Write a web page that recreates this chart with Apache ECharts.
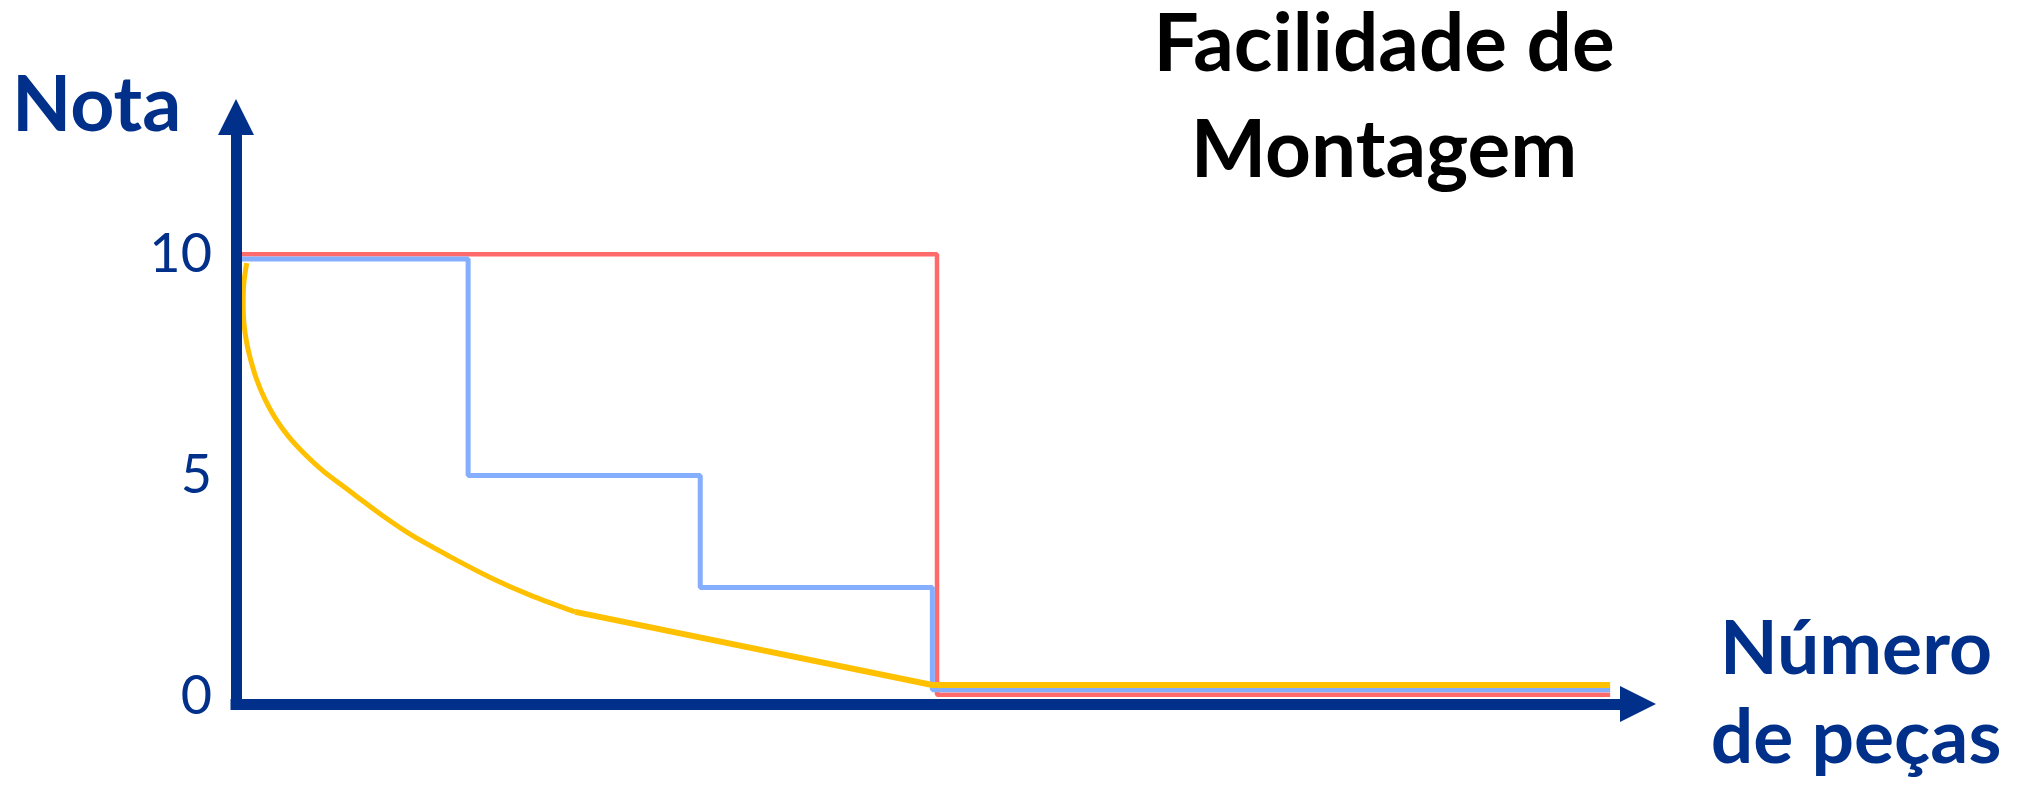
<!DOCTYPE html>
<html>
<head>
<meta charset="utf-8">
<title>Facilidade de Montagem</title>
<script src="https://cdn.jsdelivr.net/npm/echarts@6/dist/echarts.min.js"></script>
<style>
  html, body { margin: 0; padding: 0; background: #fff; }
  #chart { width: 2025px; height: 786px; }
</style>
</head>
<body>
<div id="chart"></div>
<script>
// eixo Y: valores marcados
const yTicks = [0, 5, 10];

// curva vermelha (tudo ou nada)
const redLine = [[0, 10], [3.02, 10], [3.02, 0.05], [5.92, 0.05]];

// degraus azuis
const blueLine = [
    [0, 9.89], [1, 9.89], [1, 5], [2, 5],
    [2, 2.47], [3, 2.47], [3, 0.16], [5.92, 0.16]
];

// curva amarela: parte curva + parte reta
const yellowCurve = [
    [0.046, 9.80], [0.034, 9.36], [0.031, 8.91], [0.034, 8.45],
    [0.046, 8.00], [0.063, 7.62], [0.089, 7.17], [0.125, 6.72],
    [0.168, 6.31], [0.225, 5.89], [0.297, 5.48], [0.376, 5.10],
    [0.462, 4.76], [0.520, 4.53], [0.635, 4.08], [0.764, 3.63],
    [0.922, 3.17], [1.095, 2.70], [1.267, 2.30], [1.461, 1.92]
];
const yellowStraight = [[1.461, 1.92], [3, 0.27], [5.92, 0.27]];

const NAVY = '#00308A';

var chartDom = document.getElementById('chart');
var myChart = echarts.init(chartDom);
var option = {
    animation: false,
    grid: {
        left: 236,
        top: 117,
        right: 387,
        bottom: 82,
        containLabel: false,
        outerBoundsMode: 'none'
    },
    xAxis: {
        type: 'value',
        min: 0,
        max: 6.04,
        z: 5,
        axisLine: {
            show: true,
            onZero: false,
            symbol: ['none', 'triangle'],
            symbolSize: [36, 36],
            lineStyle: { color: NAVY, width: 11, cap: 'square' }
        },
        axisTick: { show: false },
        axisLabel: { show: false },
        splitLine: { show: false }
    },
    yAxis: {
        type: 'value',
        min: -0.16,
        max: 13.1,
        z: 5,
        axisLine: {
            show: true,
            onZero: false,
            symbol: ['none', 'triangle'],
            symbolSize: [36, 36],
            lineStyle: { color: NAVY, width: 11, cap: 'square' }
        },
        axisTick: { show: false },
        axisLabel: {
            show: true,
            customValues: yTicks,
            margin: 24,
            color: NAVY,
            fontFamily: 'Lato',
            fontSize: 54
        },
        splitLine: { show: false }
    },
    graphic: [
        {
            type: 'text',
            x: 12, y: 106,
            style: {
                text: 'Nota',
                font: 'bold 77px Lato',
                fill: NAVY,
                align: 'left',
                verticalAlign: 'middle'
            }
        },
        {
            type: 'text',
            x: 1384, y: 98,
            style: {
                text: 'Facilidade de\nMontagem',
                font: 'bold 80px Lato',
                lineHeight: 106,
                fill: '#000',
                align: 'center',
                verticalAlign: 'middle'
            }
        },
        {
            type: 'text',
            x: 1856, y: 694,
            style: {
                text: 'Número\nde peças',
                font: 'bold 75px Lato',
                lineHeight: 89,
                fill: NAVY,
                align: 'center',
                verticalAlign: 'middle'
            }
        }
    ],
    series: [
        {
            type: 'line',
            data: redLine,
            symbol: 'none',
            lineStyle: { color: '#FF6B6B', width: 4.5 }
        },
        {
            type: 'line',
            data: blueLine,
            symbol: 'none',
            lineStyle: { color: '#86AEFF', width: 5 }
        },
        {
            type: 'line',
            data: yellowCurve,
            symbol: 'none',
            smooth: 0.3,
            lineStyle: { color: '#FFC000', width: 5, join: 'round' }
        },
        {
            type: 'line',
            data: yellowStraight,
            symbol: 'none',
            lineStyle: { color: '#FFC000', width: 6 }
        }
    ]
};

myChart.setOption(option);
</script>
</body>
</html>
